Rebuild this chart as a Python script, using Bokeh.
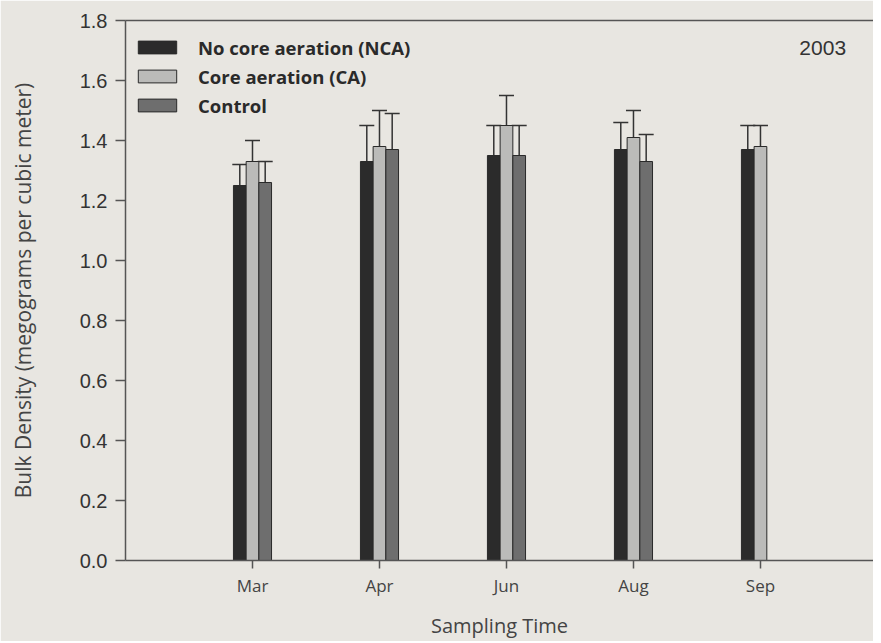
import numpy as np
from bokeh.plotting import figure
from bokeh.models import (ColumnDataSource, Range1d, FixedTicker, PrintfTickFormatter,
                          Whisker, TeeHead, Label, Legend, LegendItem, LinearAxis)
from bokeh.embed import file_html
from bokeh.resources import INLINE

months = ["Mar", "Apr", "Jun", "Aug", "Sep"]
series_names = ["No core aeration (NCA)", "Core aeration (CA)", "Control"]
nca = [1.25, 1.33, 1.35, 1.37, 1.37]
nca_err = [1.32, 1.45, 1.45, 1.46, 1.45]
ca = [1.33, 1.38, 1.45, 1.41, 1.38]
ca_err = [1.40, 1.50, 1.55, 1.50, 1.45]
ctrl = [1.26, 1.37, 1.35, 1.33, None]
ctrl_err = [1.33, 1.49, 1.45, 1.42, None]
y_ticks = [0.0, 0.2, 0.4, 0.6, 0.8, 1.0, 1.2, 1.4, 1.6, 1.8]
year_label = "2003"

colors = ["#2b2b2b", "#bbbbb9", "#6e6e6e"]
offsets = [-0.1, 0.0, 0.1]
bar_w = 0.1
bg = "#e8e6e1"

p = figure(frame_width=748, frame_height=540, output_backend="svg", toolbar_location=None,
           x_range=Range1d(0, 5.89), y_range=Range1d(0, 1.8),
           min_border_left=125, min_border_top=20, min_border_right=0, min_border_bottom=10)
p.background_fill_color = bg
p.border_fill_color = bg
p.outline_line_color = None
p.outline_line_alpha = 0
p.grid.visible = False

items = []
for name, vals, errs, col, off in zip(series_names, [nca, ca, ctrl], [nca_err, ca_err, ctrl_err], colors, offsets):
    xs, tops, ups = [], [], []
    for i, (v, e) in enumerate(zip(vals, errs)):
        if v is None:
            continue
        xs.append(i + 1 + off)
        tops.append(v)
        ups.append(e)
    src = ColumnDataSource(dict(x=xs, top=tops, up=ups))
    r = p.vbar(x="x", top="top", width=bar_w, source=src, fill_color=col,
               line_color="#2a2a2a", line_width=1)
    w = Whisker(base="x", lower="top", upper="up", source=src, dimension="height",
                line_color="#333333", line_width=1.5,
                upper_head=TeeHead(size=15, line_color="#333333", line_width=1.5),
                lower_head=None)
    p.add_layout(w)
    items.append(LegendItem(label=name, renderers=[r]))

legend = Legend(items=items, location=(8, 441), orientation="vertical",
                glyph_width=48, glyph_height=16, label_height=28, spacing=1,
                padding=4, margin=0, label_standoff=17,
                label_text_font="Open Sans", label_text_font_style="bold",
                label_text_font_size="18.5px", label_text_color="#2a2a2a",
                border_line_color=None, background_fill_alpha=0)
p.add_layout(legend)

# Y axis
p.yaxis.ticker = FixedTicker(ticks=y_ticks)
p.yaxis.formatter = PrintfTickFormatter(format="%.1f")
p.yaxis.major_tick_out = 10
p.yaxis.major_tick_in = 0
p.yaxis.minor_tick_line_color = None
p.yaxis.axis_line_color = "#555555"
p.yaxis.axis_line_width = 1.5
p.yaxis.major_tick_line_color = "#555555"
p.yaxis.major_tick_line_width = 1.5
p.yaxis.major_label_text_font = "Liberation Sans"
p.yaxis.major_label_text_font_size = "20px"
p.yaxis.major_label_text_color = "#333333"
p.yaxis.major_label_standoff = 8
p.yaxis.axis_label = "Bulk Density (megograms per cubic meter)"
p.yaxis.axis_label_text_font = "Open Sans"
p.yaxis.axis_label_text_font_style = "normal"
p.yaxis.axis_label_text_font_size = "21px"
p.yaxis.axis_label_text_color = "#444444"
p.yaxis.axis_label_standoff = 40

# X axis
p.xaxis.ticker = FixedTicker(ticks=[i + 1 for i in range(len(months))])
p.xaxis.major_label_overrides = {i + 1: m for i, m in enumerate(months)}
p.xaxis.major_tick_out = 8
p.xaxis.major_tick_in = 0
p.xaxis.minor_tick_line_color = None
p.xaxis.axis_line_color = "#555555"
p.xaxis.axis_line_width = 1.5
p.xaxis.major_tick_line_color = "#555555"
p.xaxis.major_tick_line_width = 1.5
p.xaxis.major_label_text_font = "Open Sans"
p.xaxis.major_label_text_font_size = "17px"
p.xaxis.major_label_text_color = "#444444"
p.xaxis.major_label_standoff = 5
p.xaxis.axis_label = "Sampling Time"
p.xaxis.axis_label_text_font = "Open Sans"
p.xaxis.axis_label_text_font_style = "normal"
p.xaxis.axis_label_text_font_size = "20px"
p.xaxis.axis_label_text_color = "#444444"
p.xaxis.axis_label_standoff = 12

# top border line
top_axis = LinearAxis(ticker=FixedTicker(ticks=[]), axis_line_color="#555555", axis_line_width=1.5,
                      major_label_text_font_size="0px", major_tick_line_color=None,
                      minor_tick_line_color=None)
p.add_layout(top_axis, "above")

p.add_layout(Label(x=5.49, y=1.71, text=year_label, text_align="center", text_baseline="middle",
                   text_font="Liberation Sans", text_font_size="21px", text_color="#333333"))

open("out.html", "w").write(file_html(p, INLINE))
